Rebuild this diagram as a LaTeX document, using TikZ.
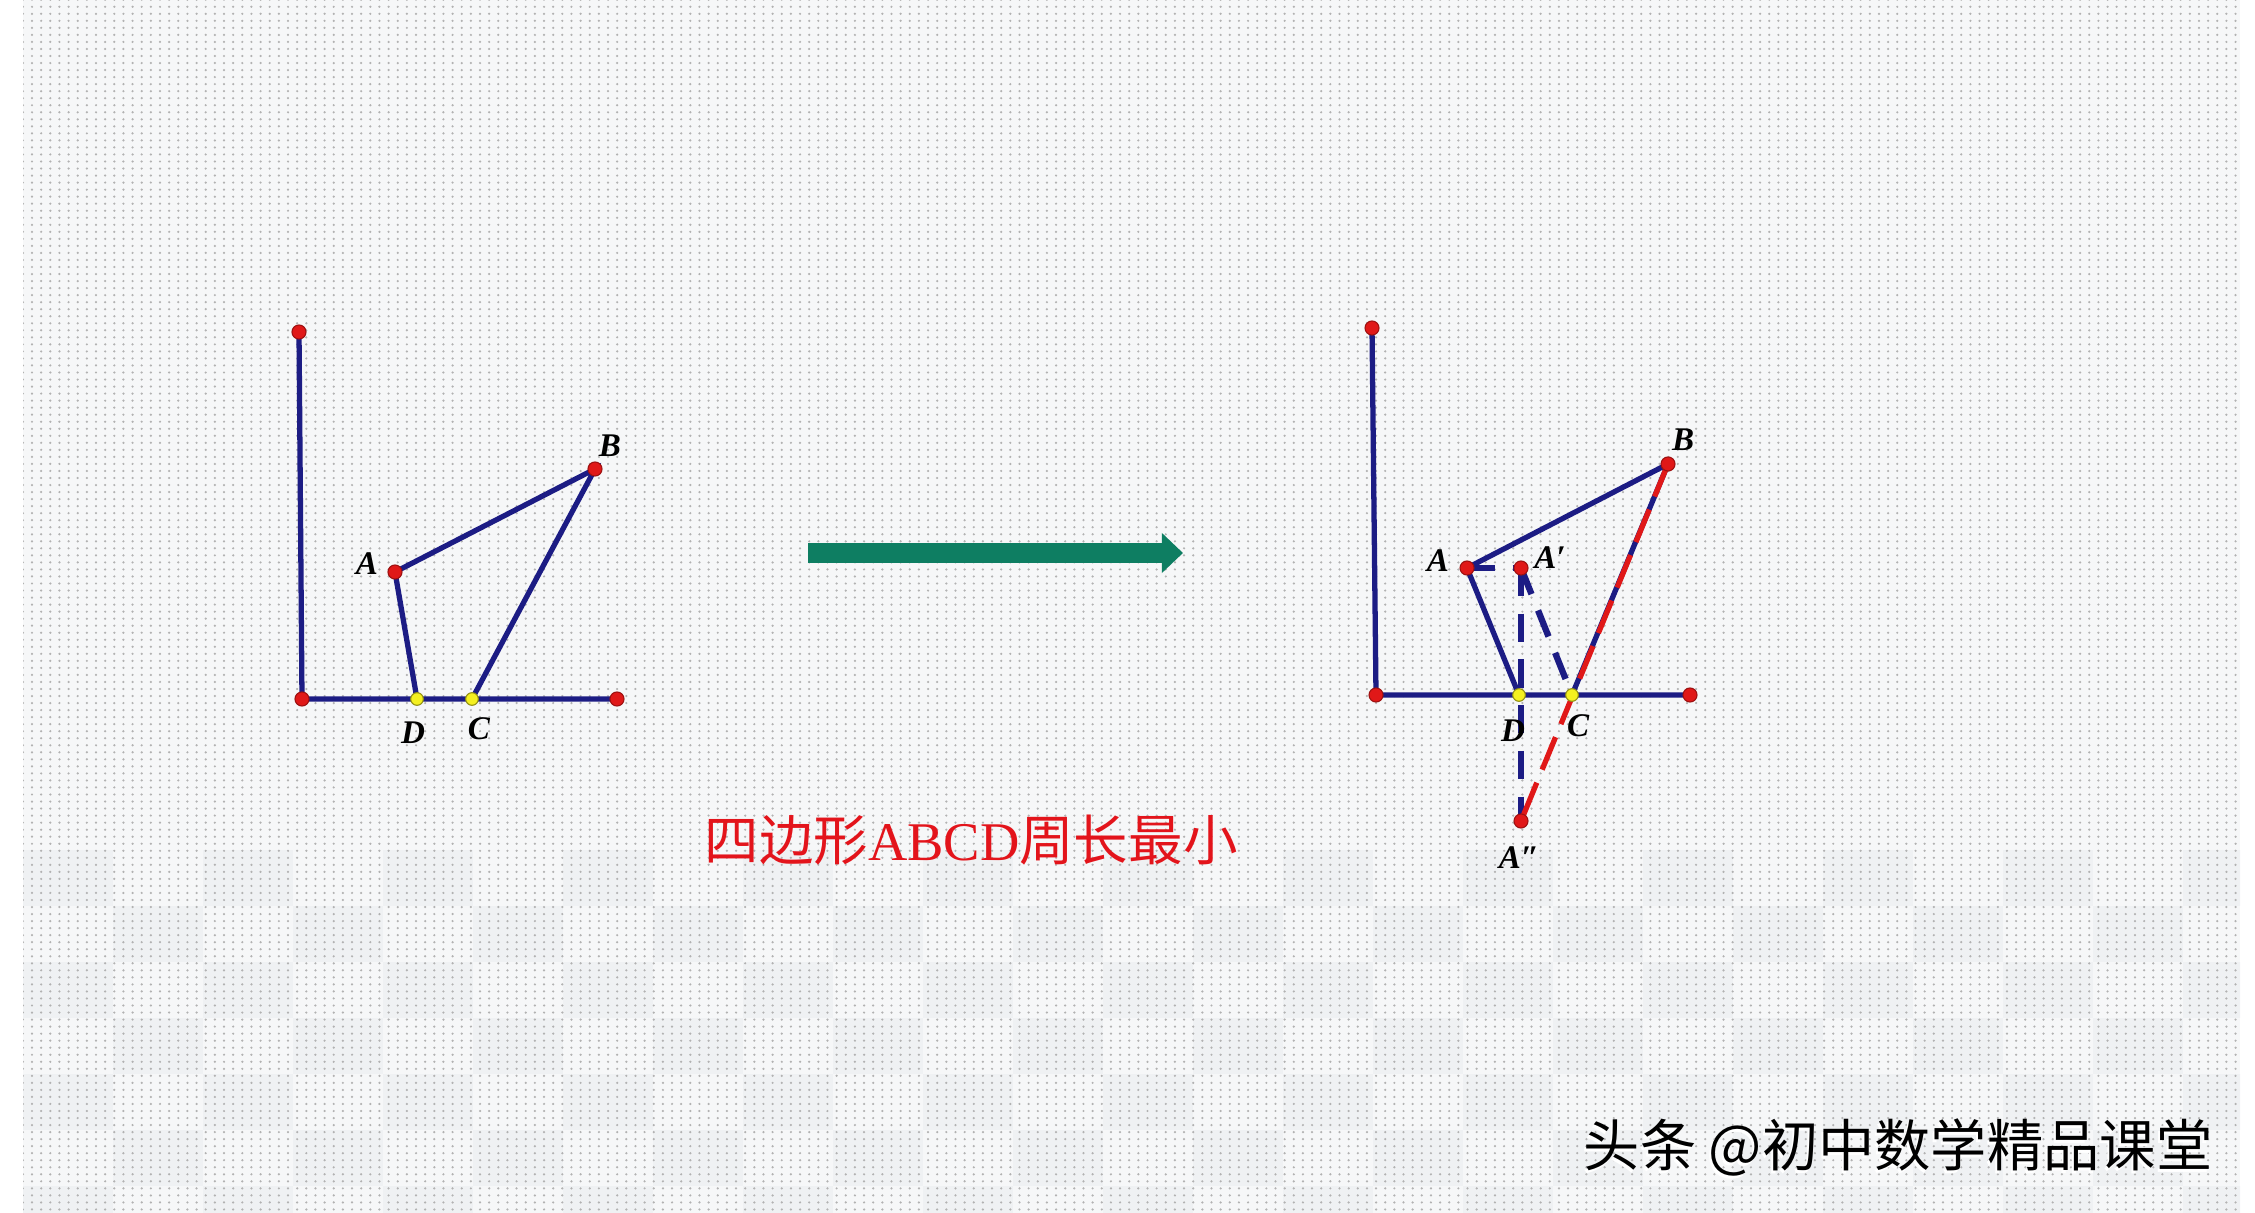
\documentclass[tikz,border=0pt]{standalone}
\usepackage{fontspec}
\setmainfont{Liberation Serif}
\newfontfamily\cjk{Noto Sans CJK SC}
\usetikzlibrary{arrows.meta, patterns}
\definecolor{lineBlue}{HTML}{1C1C84}
\definecolor{ptRed}{HTML}{E01818}
\definecolor{ptYellow}{HTML}{F4F020}
\definecolor{arrowTeal}{HTML}{0E7E62}
\definecolor{titleRed}{HTML}{E3141B}
\definecolor{bgGray}{HTML}{F6F7F8}
\definecolor{blockGray}{HTML}{E4E7EC}

\pgfdeclarepatternformonly{bgdots}{\pgfpoint{-1pt}{-1pt}}{\pgfpoint{4pt}{3pt}}{\pgfpoint{2.6pt}{2pt}}{%
  \pgfpathcircle{\pgfpoint{1.3pt}{1pt}}{0.35pt}\pgfusepath{fill}}

\begin{document}
\begin{tikzpicture}[x=0.01cm, y=-0.01cm,
    seg/.style={draw=lineBlue, line width=1.5pt},
    dashseg/.style={draw=lineBlue, line width=1.8pt, dash pattern=on 8pt off 5pt},
    reddash/.style={draw=ptRed, line width=1.5pt, dash pattern=on 10pt off 4pt},
    endpt/.style={circle, fill=ptRed, draw=ptRed!70!black, line width=0.3pt, inner sep=0pt, minimum size=4pt},
    midpt/.style={circle, fill=ptYellow, draw=ptYellow!60!black, line width=0.3pt, inner sep=0pt, minimum size=3.6pt},
    ptlabel/.style={font=\fontsize{9.4}{11}\selectfont\bfseries\itshape, inner sep=0pt}]
  \useasboundingbox (0,0) rectangle (2255,1213);
  \fill[white] (0,0) rectangle (2255,1213);

  % background
  \begin{scope}
    \clip (23,0) rectangle (2240,1213);
    \fill[bgGray] (23,0) rectangle (2240,1213);
    \foreach \row in {0,...,6}{
      \foreach \col in {0,2,...,24}{
        \pgfmathtruncatemacro{\cx}{23+(\col+mod(\row,2))*90}
        \pgfmathtruncatemacro{\cy}{850+\row*56}
        \fill[blockGray, opacity=0.35] (\cx,\cy) rectangle ++(90,56);
      }
    }
    \fill[pattern=bgdots, pattern color=gray!60] (23,0) rectangle (2240,1213);
  \end{scope}

  % left figure
  \coordinate (L-top) at (299,332);
  \coordinate (L-O) at (302,699);
  \coordinate (L-E) at (617,699);
  \coordinate (L-A) at (395,572);
  \coordinate (L-B) at (595,469);
  \coordinate (L-D) at (417,699);
  \coordinate (L-C) at (472,699);
  \draw[seg] (L-top) -- (L-O) -- (L-E);
  \draw[seg] (L-D) -- (L-A) -- (L-B) -- (L-C);
  \foreach \p in {L-top, L-O, L-E, L-A, L-B}
    \node[endpt] (dot-\p) at (\p) {};
  \foreach \p in {L-D, L-C}
    \node[midpt] (dot-\p) at (\p) {};
  \node[ptlabel] (lab-L-A) at (367,564) {A};
  \node[ptlabel] (lab-L-B) at (610,446) {B};
  \node[ptlabel] (lab-L-D) at (413,733) {D};
  \node[ptlabel] (lab-L-C) at (479,729) {C};

  % arrow
  \coordinate (arr-tail) at (808,553);
  \coordinate (arr-head) at (1183,553);
  \draw[arrowTeal, line width=5.7pt, -{Triangle[length=6pt, width=11pt]}] (arr-tail) -- (arr-head);

  % right figure
  \coordinate (R-top) at (1372,328);
  \coordinate (R-O) at (1376,695);
  \coordinate (R-E) at (1690,695);
  \coordinate (R-A) at (1467,568);
  \coordinate (R-A1) at (1521,568);
  \coordinate (R-B) at (1668,464);
  \coordinate (R-D) at (1519,695);
  \coordinate (R-C) at (1572,695);
  \coordinate (R-A2) at (1521,821);
  \draw[seg] (R-top) -- (R-O) -- (R-E);
  \draw[seg] (R-D) -- (R-A) -- (R-B) -- (R-C);
  \draw[dashseg] (R-A) -- (R-A1);
  \draw[dashseg] (R-A1) -- (R-A2);
  \draw[dashseg] (R-A1) -- (R-C);
  \draw[reddash] (R-B) -- (R-A2);
  \foreach \p in {R-top, R-O, R-E, R-A, R-A1, R-B, R-A2}
    \node[endpt] (dot-\p) at (\p) {};
  \foreach \p in {R-D, R-C}
    \node[midpt] (dot-\p) at (\p) {};
  \node[ptlabel] (lab-R-A) at (1438,561) {A};
  \node[ptlabel] (lab-R-A1) at (1550,558) {A′};
  \node[ptlabel] (lab-R-B) at (1683,440) {B};
  \node[ptlabel] (lab-R-D) at (1513,731) {D};
  \node[ptlabel] (lab-R-C) at (1578,726) {C};
  \node[ptlabel] (lab-R-A2) at (1519,858) {A″};

  % captions
  \node[text=titleRed, font=\fontsize{15.5}{18}\selectfont] (title) at (971,840)
    {{\cjk 四边形}ABCD{\cjk 周长最小}};
  \node[text=white, font=\cjk\fontsize{16}{19}\selectfont] (mark-shadow) at (1896,1150)
    {头条 @初中数学精品课堂};
  \node[text=black, font=\cjk\fontsize{16}{19}\selectfont] (mark) at (1898,1147)
    {头条 @初中数学精品课堂};
\end{tikzpicture}
\end{document}
